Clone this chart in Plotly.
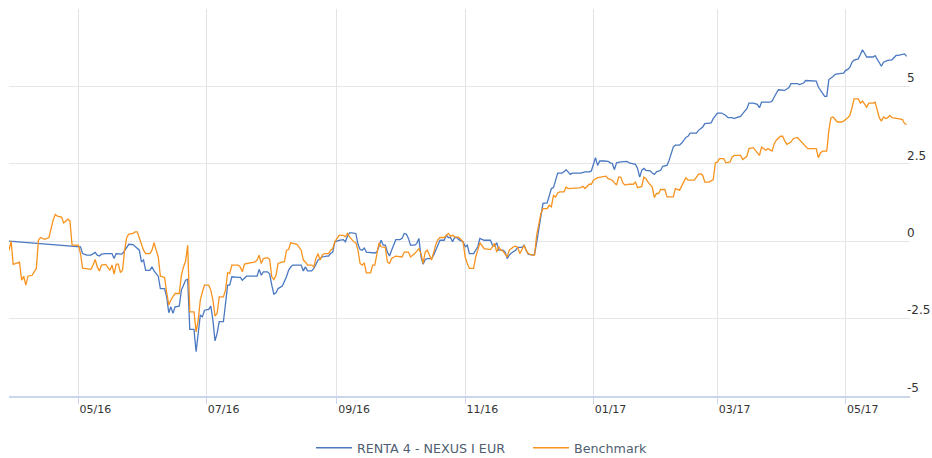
import pandas as pd
import plotly.graph_objects as go

start_date = "2016-03-29"

fund_name = "RENTA 4 - NEXUS I EUR"
bench_name = "Benchmark"

fund_days = [0,33,34,35,37,39,40,41,42,43,44,46,49,50,51,53,54,56,57,59,60,62,63,64,65,67,68,69,71,72,74,75,76,77,78,79,81,82,83,84,85,86,88,89,90,91,92,93,95,96,97,98,99,100,102,103,104,105,106,109,110,111,113,118,119,120,121,123,124,125,126,127,128,130,132,133,134,135,139,140,141,142,144,145,146,147,148,149,151,152,153,154,155,157,159,160,161,162,163,165,166,167,168,169,170,174,175,176,177,178,179,180,181,182,184,186,187,188,189,190,191,193,194,195,196,197,198,199,201,202,203,204,205,207,208,209,210,211,212,213,214,216,217,218,219,221,222,223,224,226,229,230,231,232,233,235,236,237,238,239,241,242,244,245,246,247,249,250,251,252,254,256,257,258,259,260,261,263,264,265,266,267,268,270,272,274,276,277,278,279,280,281,283,285,286,287,288,289,291,292,294,295,297,298,299,300,301,302,303,305,306,307,308,310,311,312,313,314,315,316,317,319,320,321,322,323,324,326,327,328,329,330,331,333,334,335,337,338,339,341,342,344,345,346,348,349,351,352,354,356,357,358,360,362,363,364,365,366,368,369,371,372,373,375,376,378,379,380,383,384,385,386,387,388,389,390,392,393,395,396,397,398,399,400,401,402,404,405,406,407,408,410,411,412,413,414,415,416,417,418,420,421,422,423,424,425,426,427]
fund_values = [0.00,-0.18,-0.18,-0.40,-0.45,-0.45,-0.40,-0.36,-0.45,-0.48,-0.42,-0.40,-0.40,-0.56,-0.40,-0.42,-0.40,-0.18,-0.10,-0.11,-0.18,-0.29,-0.67,-0.61,-0.94,-0.94,-0.83,-0.96,-1.13,-1.53,-1.53,-1.80,-2.31,-2.12,-2.33,-2.12,-2.10,-1.58,-1.42,-1.26,-1.23,-2.85,-2.85,-3.57,-2.98,-2.39,-2.44,-2.23,-2.20,-2.10,-2.55,-3.22,-2.98,-2.60,-2.60,-2.01,-1.42,-1.42,-1.15,-1.17,-1.17,-1.26,-1.13,-1.13,-0.91,-1.10,-0.99,-0.99,-1.06,-1.42,-1.71,-1.67,-1.53,-1.45,-1.15,-0.94,-0.83,-0.77,-0.77,-0.96,-0.83,-0.96,-0.96,-0.88,-0.72,-0.61,-0.56,-0.51,-0.48,-0.48,-0.40,-0.35,-0.02,0.03,0.05,-0.02,0.16,0.27,0.27,0.25,-0.10,-0.27,-0.29,-0.22,-0.35,-0.38,-0.35,-0.13,0.03,-0.13,-0.13,-0.35,-0.48,-0.29,0.05,0.05,0.09,0.25,0.23,0.09,-0.13,-0.13,-0.07,0.09,-0.51,-0.74,-0.59,-0.56,-0.56,-0.45,-0.29,-0.13,0.03,0.03,0.19,0.12,0.12,-0.02,0.12,0.12,0.05,-0.02,-0.18,-0.13,-0.40,-0.40,-0.29,-0.18,0.09,0.03,0.03,-0.13,-0.16,-0.05,-0.29,-0.29,-0.35,-0.56,-0.45,-0.38,-0.29,-0.20,-0.20,-0.13,-0.29,-0.42,-0.45,-0.42,-0.05,0.38,1.22,1.24,1.48,1.70,1.73,1.97,2.20,2.20,2.24,2.31,2.24,2.16,2.20,2.20,2.20,2.24,2.24,2.27,2.53,2.70,2.45,2.59,2.59,2.58,2.53,2.51,2.31,2.53,2.56,2.56,2.58,2.53,2.51,2.48,2.35,2.07,2.29,2.35,2.29,2.27,2.20,2.16,2.24,2.29,2.42,2.44,2.45,2.61,2.81,3.04,3.10,3.10,3.17,3.26,3.35,3.39,3.49,3.49,3.49,3.58,3.64,3.69,3.80,3.80,3.82,3.96,4.14,4.14,4.14,4.06,3.99,3.99,3.96,3.99,4.03,4.12,4.28,4.46,4.46,4.42,4.31,4.49,4.49,4.49,4.53,4.68,4.78,4.89,4.87,4.87,4.96,5.09,5.09,5.09,5.06,5.11,5.19,5.19,5.19,5.17,4.98,4.89,4.76,4.68,4.68,5.22,5.32,5.39,5.41,5.41,5.43,5.52,5.55,5.62,5.78,5.85,5.89,6.03,6.18,6.07,5.95,5.95,5.95,5.99,5.86,5.78,5.65,5.78,5.82,5.84,5.86,5.95,6.00,6.00,6.02,6.03,6.05,5.97]

bench_days = [0,1,2,5,6,7,8,9,11,12,13,14,15,17,19,21,22,23,25,26,28,29,30,33,34,35,39,40,41,42,43,44,46,48,49,50,51,52,53,54,55,56,57,59,60,61,62,63,64,65,67,68,69,70,71,72,73,74,75,76,77,78,79,81,82,83,84,85,86,88,89,90,91,92,93,95,96,97,98,99,100,102,103,104,105,106,109,110,111,112,115,117,118,119,120,121,123,124,125,126,127,128,130,131,132,133,134,136,137,139,140,141,142,144,145,146,147,148,149,150,152,153,154,155,157,159,160,161,162,164,165,166,167,168,169,170,172,173,174,175,176,177,179,180,181,182,184,187,188,190,191,193,195,196,197,198,199,201,202,203,204,205,207,209,210,211,212,214,216,217,218,219,221,222,223,224,226,229,230,231,232,233,234,235,237,238,240,241,242,243,244,245,246,247,249,250,251,253,254,256,257,258,259,260,261,262,264,265,266,268,271,272,273,274,276,277,278,280,283,284,285,287,289,290,291,292,293,295,297,298,299,301,302,303,304,306,307,308,309,310,312,313,316,317,319,320,321,322,323,326,328,329,330,331,333,334,335,336,337,338,340,341,343,344,345,348,349,351,352,354,355,357,358,360,361,363,364,365,367,368,369,370,372,373,375,376,378,379,380,384,385,386,387,389,390,391,392,393,394,396,397,399,400,401,402,404,405,406,407,408,409,411,412,413,414,415,416,417,418,419,420,423,425,426,427]
bench_values = [-0.30,0.00,-0.75,-0.68,-1.26,-1.13,-1.42,-1.13,-1.10,-0.99,-0.88,0.03,0.12,0.06,0.12,0.68,0.86,0.81,0.78,0.59,0.71,0.65,-0.13,-0.13,-0.39,-0.87,-0.91,-0.77,-0.59,-0.83,-0.96,-0.77,-0.75,-0.94,-0.77,-1.06,-0.74,-0.74,-1.01,-0.94,-0.29,0.12,0.23,0.25,0.30,0.30,0.11,-0.10,-0.29,-0.40,-0.40,-0.29,-0.05,-0.29,-0.51,-1.13,-1.15,-1.17,-1.64,-2.06,-1.90,-1.80,-1.69,-1.69,-1.10,-0.83,-0.65,-0.13,-2.28,-2.28,-2.93,-2.55,-1.90,-1.64,-1.42,-1.42,-1.58,-1.90,-2.42,-2.33,-1.80,-1.80,-1.58,-1.02,-1.04,-0.77,-0.77,-0.83,-0.99,-0.74,-0.70,-0.67,-0.61,-0.45,-0.72,-0.56,-0.53,-0.59,-1.15,-1.24,-1.10,-0.72,-0.67,-0.67,-0.29,-0.27,-0.05,-0.10,-0.10,-0.29,-0.61,-0.67,-0.77,-0.77,-0.83,-0.56,-0.40,-0.61,-0.45,-0.40,-0.40,-0.29,-0.24,-0.02,0.19,0.19,0.14,0.25,0.14,-0.02,-0.05,-0.29,-0.72,-0.77,-0.70,-1.02,-1.02,-0.77,-0.77,-0.42,-0.05,-0.18,-0.20,-0.67,-0.72,-0.56,-0.48,-0.51,-0.35,-0.35,-0.51,-0.40,-0.24,-0.40,-0.72,-0.35,-0.29,-0.61,-0.35,-0.11,0.05,0.12,0.12,0.25,0.16,0.19,0.14,0.12,-0.02,-0.51,-0.72,-0.88,-0.88,-0.51,-0.29,-0.05,-0.24,-0.27,-0.18,-0.07,-0.35,-0.18,-0.29,-0.32,-0.51,-0.29,-0.18,-0.16,-0.20,-0.40,-0.27,-0.13,-0.29,-0.40,-0.45,-0.45,0.19,0.89,1.05,1.05,1.16,1.11,1.48,1.43,1.56,1.59,1.59,1.75,1.70,1.70,1.72,1.73,1.77,1.70,1.84,1.84,1.97,2.05,2.07,2.10,2.02,1.97,1.81,2.07,2.07,1.88,1.81,1.84,1.84,1.91,1.73,1.77,2.07,2.02,1.91,1.75,1.41,1.54,1.54,1.67,1.67,1.43,1.43,1.70,1.65,1.77,1.91,2.05,1.97,1.97,2.16,2.18,2.13,1.91,1.91,1.95,1.99,2.53,2.56,2.67,2.67,2.53,2.56,2.72,2.77,2.77,2.64,2.74,2.99,3.02,2.94,2.77,3.04,2.94,2.99,2.91,3.15,3.26,3.39,3.39,3.24,3.13,3.20,3.31,3.35,3.28,3.15,3.06,2.99,2.99,2.70,2.85,2.91,2.91,3.58,3.99,4.01,3.93,3.85,3.85,3.88,3.99,4.06,4.31,4.60,4.60,4.46,4.53,4.44,4.33,4.46,4.46,4.49,4.23,3.99,3.88,4.01,3.96,3.99,4.06,3.99,3.96,3.93,3.80,3.77]

y_tick_values = [-5, -2.5, 0, 2.5, 5, 7.5]
y_tick_labels = ["-5", "-2.5", "0", "2.5", "5", ""]

t0 = pd.Timestamp(start_date)
fund_dates = [t0 + pd.Timedelta(days=d) for d in fund_days]
bench_dates = [t0 + pd.Timedelta(days=d) for d in bench_days]

fig = go.Figure()
fig.add_trace(go.Scatter(x=fund_dates, y=fund_values, name=fund_name, mode="lines",
                         line=dict(color="#4a78c2", width=1.3)))
fig.add_trace(go.Scatter(x=bench_dates, y=bench_values, name=bench_name, mode="lines",
                         line=dict(color="#f7931e", width=1.3)))

fig.update_layout(
    width=932, height=458,
    margin=dict(l=9, r=22, t=9, b=62, autoexpand=False),
    paper_bgcolor="white", plot_bgcolor="white",
    font=dict(family="DejaVu Sans", size=12, color="#333333"),
    showlegend=True,
    legend=dict(orientation="h", xref="container", yref="container",
                x=0.3337, xanchor="left", y=0.0218, yanchor="middle",
                itemwidth=36, entrywidth=166,
                font=dict(family="DejaVu Sans", size=12.7, color="#4f5e70"),
                bgcolor="rgba(0,0,0,0)"),
    xaxis=dict(
        type="date",
        range=[t0, t0 + pd.Timedelta(days=428.6)],
        tickformat="%m/%y", dtick="M2", tick0="2016-05-01",
        ticklabelposition="outside right",
        showgrid=True, gridcolor="#e0e3e8", gridwidth=1,
        showline=True, linecolor="#ccd6eb", linewidth=1.5,
        ticks="outside", ticklen=6, tickcolor="#ccd6eb",
        ticklabelstandoff=2,
        tickfont=dict(family="DejaVu Sans", size=11, color="#333333"),
        zeroline=False,
    ),
    yaxis=dict(
        range=[-5, 7.5], side="right",
        tickvals=y_tick_values, ticktext=y_tick_labels,
        ticklabelposition="outside top",
        showgrid=True, gridcolor="#e6e6e6", gridwidth=1,
        zeroline=False, showline=False, ticks="",
        tickfont=dict(family="DejaVu Sans", size=12, color="#333333"),
        automargin=False,
    ),
)

try:
    fig.update_yaxes(ticklabelstandoff=-4)
except Exception:
    pass

fig.write_html("out.html",
               config={"displayModeBar": False},
               post_script="document.body.style.margin='0';document.body.style.overflow='hidden';")
